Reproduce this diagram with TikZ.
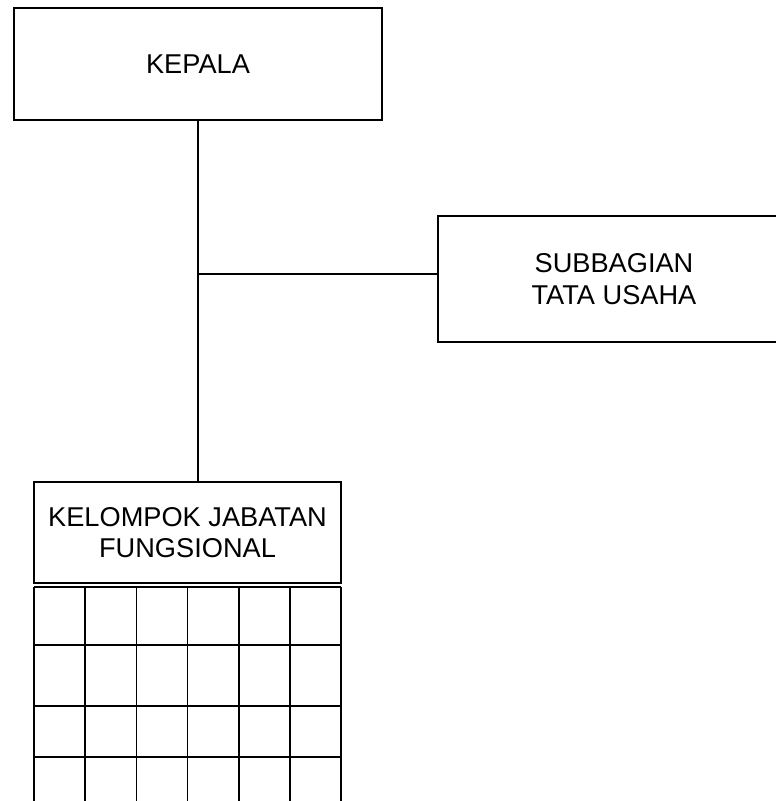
\documentclass[tikz,border=0pt]{standalone}
\usepackage{fontspec}
\setmainfont{Liberation Sans}
\begin{document}
\begin{tikzpicture}[x=1pt,y=-1pt,
  box/.style={draw=black,line width=1.5pt,rectangle,inner sep=0pt,align=center,
    font=\fontsize{27.2}{31.5}\selectfont},
  conn/.style={draw=black,line width=1.5pt},
  gridline/.style={draw=black,line width=1.5pt}]
\useasboundingbox (0,0) rectangle (776,801);
\begin{scope}
\clip (0,0) rectangle (776,801);
\node[box,minimum width=368pt,minimum height=112pt] (kepala) at (198,64) {KEPALA};
\node[box,minimum width=352pt,minimum height=126pt] (sub) at (614,279) {SUBBAGIAN\\TATA USAHA};
\node[box,minimum width=307pt,minimum height=101pt] (kel) at (187.5,532.5) {KELOMPOK JABATAN\\FUNGSIONAL};
\coordinate (j) at (198,274);
\draw[conn] (kepala.south) -- (kepala.south |- kel.north);
\draw[conn] (j) -- (j -| sub.west);
% grid below the group box
\foreach \y in {587,645,706,757}
  \draw[gridline] (34,\y) -- (341,\y);
\foreach \x in {34,85.2,136.4,187.6,238.8,290,341}
  \draw[gridline] (\x,587) -- (\x,805);
\end{scope}
\end{tikzpicture}
\end{document}
